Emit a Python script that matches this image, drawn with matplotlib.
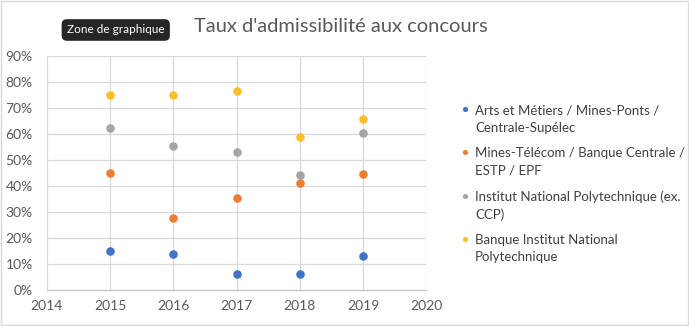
import matplotlib.pyplot as plt
from matplotlib.ticker import PercentFormatter
from matplotlib.legend_handler import HandlerPathCollection
from matplotlib.collections import PathCollection

plt.rcParams['font.family'] = ['Lato', 'DejaVu Sans']

# data
years = [2015, 2016, 2017, 2018, 2019]
arts_mines = [15.1, 14.0, 6.3, 6.3, 13.2]
mines_telecom = [45.2, 27.9, 35.6, 41.2, 44.8]
inp = [62.5, 55.4, 53.3, 44.3, 60.6]
banque_inp = [75.2, 75.2, 76.6, 58.9, 65.8]

labels = ['Arts et Métiers / Mines-Ponts /\nCentrale-Supélec',
          'Mines-Télécom / Banque Centrale /\nESTP / EPF',
          'Institut National Polytechnique (ex.\nCCP)',
          'Banque Institut National\nPolytechnique']
colors = ['#4472c4', '#ed7d31', '#a5a5a5', '#fcbf2b']
series = [arts_mines, mines_telecom, inp, banque_inp]

fig = plt.figure(figsize=(6.89, 3.26), dpi=100)
ax = fig.add_axes([0.0678, 0.110, 0.551, 0.717])

for vals, lab, c in zip(series, labels, colors):
    ax.scatter(years, vals, s=38, color=c, label=lab, zorder=3, linewidths=0)

ax.set_xlim(2014, 2020)
ax.set_ylim(0, 90)
ax.set_yticks(range(0, 91, 10))
ax.set_xticks(range(2014, 2021))
ax.yaxis.set_major_formatter(PercentFormatter(decimals=0))
ax.grid(True, color='#d9d9d9', linewidth=0.9)
ax.set_axisbelow(True)
for s in ['top', 'right', 'left']:
    ax.spines[s].set_visible(False)
ax.spines['bottom'].set_color('#bfbfbf')
ax.tick_params(length=0, labelsize=10, colors='#595959')
ax.tick_params(axis='y', pad=10)
ax.tick_params(axis='x', pad=7)

fig.text(0.495, 0.92, "Taux d'admissibilité aux concours", ha='center', va='center',
         fontsize=14.5, color='#595959')

# marker next to the first line of each two-line label
leg = ax.legend(loc='upper left', bbox_to_anchor=(1.05, 0.845), frameon=False,
                fontsize=9.5, labelcolor='#404040', handletextpad=0.15,
                markerscale=0.6, labelspacing=1.05, handlelength=1.2,
                handler_map={PathCollection: HandlerPathCollection(yoffsets=[1.6])})
for t in leg.get_texts():
    t.set_linespacing(1.5)

# tooltip box from the screenshot
fig.text(0.168, 0.908, 'Zone de graphique', ha='center', va='center', fontsize=8.5,
         color='white', bbox=dict(boxstyle='round,pad=0.45', fc='#262626', ec='none'))

# outer border
fig.add_artist(plt.Rectangle((0.001, 0.002), 0.997, 0.995, transform=fig.transFigure,
                             fill=False, ec='#d9d9d9', lw=1))

fig.savefig('out.png', dpi=100)
